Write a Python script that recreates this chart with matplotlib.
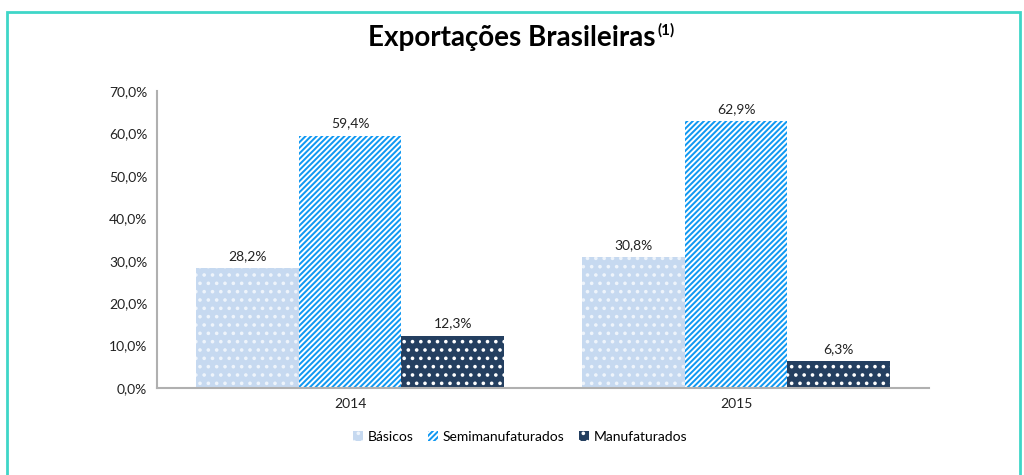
import matplotlib.pyplot as plt
from matplotlib.patches import Rectangle
import numpy as np

years = ['2014', '2015']
basicos = [28.2, 30.8]
semi = [59.4, 62.9]
manuf = [12.3, 6.3]
series_names = ['Básicos', 'Semimanufaturados', 'Manufaturados']

plt.rcParams['font.family'] = ['Lato', 'DejaVu Sans']
plt.rcParams['hatch.linewidth'] = 1.4

fig = plt.figure(figsize=(10.24, 4.75), dpi=100)
ax = fig.add_axes([157 / 1024, 1 - 388 / 475, 772 / 1024, 297 / 475])

x = np.arange(len(years))
w = 0.266
styles = [
    dict(color='#c6d9f0', edgecolor='#eef4fb', hatch='..'),
    dict(color='#0f98f2', edgecolor='white', hatch='//////'),
    dict(color='#243f60', edgecolor='white', hatch='..'),
]
for i, (vals, name, st) in enumerate(zip([basicos, semi, manuf], series_names, styles)):
    bars = ax.bar(x + (i - 1) * w, vals, w, label=name, facecolor=st['color'],
                  edgecolor=st['edgecolor'], hatch=st['hatch'], linewidth=0)
    for b, v in zip(bars, vals):
        ax.text(b.get_x() + b.get_width() / 2, v + 1.5, f'{v:.1f}%'.replace('.', ','),
                ha='center', va='bottom', fontsize=10, color='#222222')

ax.set_xlim(-0.5, 1.5)
ax.set_ylim(0, 70)
ax.set_yticks(np.arange(0, 71, 10))
ax.set_yticklabels([f'{t:.1f}%'.replace('.', ',') for t in np.arange(0, 71, 10)], fontsize=10)
ax.set_xticks(x)
ax.set_xticklabels(years, fontsize=10)
ax.tick_params(length=0, pad=7, colors='#222222')
for s in ['top', 'right']:
    ax.spines[s].set_visible(False)
for s in ['left', 'bottom']:
    ax.spines[s].set_color('#b0b0b0')
    ax.spines[s].set_linewidth(1.5)

# title with small bold superscript
title = fig.text(0.500, 0.92, 'Exportações Brasileiras', ha='center', va='center',
                 fontsize=20, fontweight='bold')
fig.canvas.draw()
bb = title.get_window_extent().transformed(fig.transFigure.inverted())
fig.text(bb.x1 + 0.002, bb.y1 + 0.004, '(1)', ha='left', va='top',
         fontsize=11, fontweight='bold')

fig.legend(loc='center', bbox_to_anchor=(0.508, 1 - 437 / 475), ncol=3, frameon=False,
           fontsize=10, handlelength=0.7, handleheight=0.7, handletextpad=0.3,
           columnspacing=1.1)

fig.patches.append(Rectangle((7 / 1024, -0.1), 1013 / 1024, 1.1 - 12 / 475,
                             transform=fig.transFigure, fill=False,
                             edgecolor='#3fd6c8', linewidth=2))

fig.savefig('out.png', dpi=100)
